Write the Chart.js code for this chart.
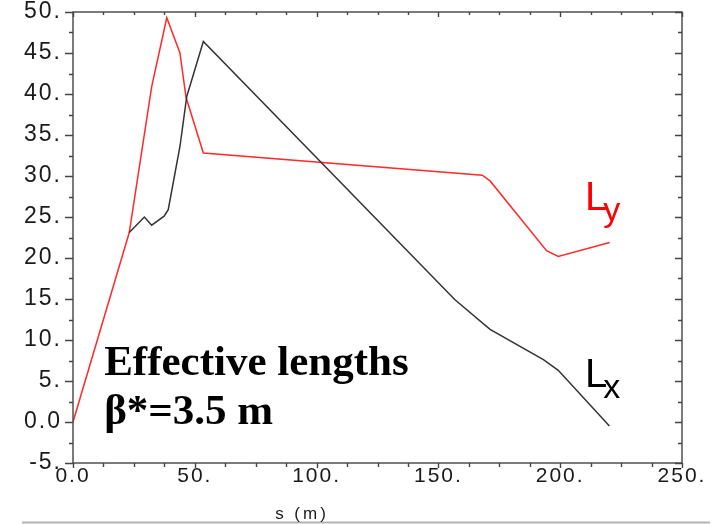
<!DOCTYPE html>
<html>
<head>
<meta charset="utf-8">
<script src="https://cdn.jsdelivr.net/npm/chart.js@4/dist/chart.umd.min.js"></script>
<style>
    html, body { margin: 0; padding: 0; background: #fff; }
    #Chart { display: block; }
</style>
</head>
<body>
<canvas id="Chart" width="720" height="524"></canvas>
<script>
//Horizontal effective length Lx along s (m)
const sLx = [23.1, 29.3, 32.3, 37.4, 39.1, 43.9, 46.7, 53.5, 156.8, 171.2, 193.1, 199.2, 220.2];
const Lx = [23.1, 25.0, 24.0, 25.1, 25.9, 33.6, 39.7, 46.4, 14.9, 11.3, 7.6, 6.3, -0.5];

//Vertical effective length Ly along s (m)
const sLy = [0, 23.1, 32.3, 38.5, 43.9, 46.4, 53.5, 168.0, 171.2, 194.4, 199.2, 220.3];
const Ly = [0, 23.1, 40.9, 49.3, 45.0, 39.6, 32.8, 30.1, 29.4, 20.9, 20.2, 21.9];

//Axis ranges and tick steps
const xRange = [0, 250];
const yRange = [-5, 50];
const xMajor = 50, xMinor = 12.5;
const yMajor = 5, yMinor = 2.5;

const xTitle = 's (m)';
const noteLines = ['Effective lengths', '\u03b2*=3.5 m'];

/**
 * Formats tick values the way the plotting program did: 50. 45. 0.0 -5.
 *
 * @param value {number}
 * @returns {string}
 */
function tickText(value) {
    return value === 0 ? '0.0' : value + '.';
}

function toPoints(xs, ys) {
    return xs.map(function (x, i) {
        return {x: x, y: ys[i]};
    });
}

//Keeps the plot box exactly where the layout padding puts it.
function noLabelPadding(scale) {
    scale.paddingTop = 0;
    scale.paddingBottom = 0;
    scale.paddingLeft = 0;
    scale.paddingRight = 0;
}

const axisColor = '#444';

//Draws the frame, the inward/outward tick marks and the text notes.
const framePlugin = {
    id: 'frame',
    beforeDraw: function (chart) {
        chart.ctx.letterSpacing = '2px';
    },
    afterDraw: function (chart) {
        const ctx = chart.ctx;
        const area = chart.chartArea;
        const xs = chart.scales.x;
        const ys = chart.scales.y;

        ctx.save();
        ctx.strokeStyle = axisColor;
        ctx.lineWidth = 1.4;
        ctx.strokeRect(area.left, area.top, area.right - area.left, area.bottom - area.top);

        ctx.beginPath();
        for (let v = yRange[0]; v <= yRange[1]; v += yMinor) {
            let py = Math.round(ys.getPixelForValue(v)) + 0.5;
            let major = v % yMajor === 0;
            ctx.moveTo(area.left, py);
            ctx.lineTo(area.left - (major ? 8 : 4), py);
            ctx.moveTo(area.right, py);
            ctx.lineTo(area.right - (major ? 7 : 4), py);
        }
        for (let v = xRange[0]; v <= xRange[1]; v += xMinor) {
            let px = Math.round(xs.getPixelForValue(v)) + 0.5;
            let major = v % xMajor === 0;
            ctx.moveTo(px, area.bottom);
            ctx.lineTo(px, area.bottom + (major ? 5 : 4));
            ctx.moveTo(px, area.top);
            ctx.lineTo(px, area.top + (major ? 5 : 3));
        }
        ctx.stroke();

        //separator line under the plot
        ctx.strokeStyle = '#b4b4b4';
        ctx.lineWidth = 2;
        ctx.beginPath();
        ctx.moveTo(22, 522.5);
        ctx.lineTo(710, 522.5);
        ctx.stroke();

        //axis title
        ctx.letterSpacing = '3px';
        ctx.fillStyle = '#1a1a1a';
        ctx.font = '17px "Liberation Sans", Arial, sans-serif';
        ctx.textAlign = 'center';
        ctx.textBaseline = 'alphabetic';
        ctx.fillText(xTitle, 302, 519);

        //note in the lower left
        ctx.letterSpacing = '0px';
        ctx.textAlign = 'left';
        ctx.fillStyle = '#000';
        ctx.font = 'bold 43px "Liberation Serif", "Times New Roman", serif';
        ctx.fillText(noteLines[0], xs.getPixelForValue(12.8), ys.getPixelForValue(5.73));
        ctx.fillText(noteLines[1], xs.getPixelForValue(12.8), ys.getPixelForValue(-0.24));

        //curve labels with subscripts
        drawSubscripted(ctx, 'L', 'y', '#ff0000', xs.getPixelForValue(210.2), ys.getPixelForValue(25.85));
        drawSubscripted(ctx, 'L', 'x', '#000', xs.getPixelForValue(210.2), ys.getPixelForValue(4.27));
        ctx.restore();
    }
};

function drawSubscripted(ctx, main, sub, color, x, y) {
    ctx.fillStyle = color;
    ctx.font = '40px "Liberation Sans", Arial, sans-serif';
    ctx.fillText(main, x, y);
    let w = ctx.measureText(main).width;
    ctx.font = '34px "Liberation Sans", Arial, sans-serif';
    ctx.fillText(sub, x + w - 4, y + 11);
}

const config = {
    type: 'line',
    data: {
        datasets: [{
            label: 'Lx',
            data: toPoints(sLx, Lx),
            borderColor: '#333',
            borderWidth: 1.5,
            pointRadius: 0,
            fill: false
        }, {
            label: 'Ly',
            data: toPoints(sLy, Ly),
            borderColor: '#ff2a2a',
            borderWidth: 1.5,
            pointRadius: 0,
            fill: false
        }]
    },
    options: {
        responsive: false,
        animation: false,
        devicePixelRatio: 1,
        layout: {padding: {left: 0, top: 12, right: 38, bottom: 0}},
        plugins: {
            legend: {display: false},
            tooltip: {enabled: false}
        },
        scales: {
            x: {
                type: 'linear',
                position: 'bottom',
                min: xRange[0],
                max: xRange[1],
                grid: {display: false, drawTicks: false},
                border: {display: false},
                afterFit: function (scale) {
                    scale.height = 61;
                    noLabelPadding(scale);
                },
                ticks: {
                    stepSize: xMajor,
                    padding: 1,
                    maxRotation: 0,
                    color: '#1a1a1a',
                    font: {family: '"Liberation Sans", Arial, sans-serif', size: 21},
                    callback: tickText
                }
            },
            y: {
                type: 'linear',
                min: yRange[0],
                max: yRange[1],
                grid: {display: false, drawTicks: false},
                border: {display: false},
                afterFit: function (scale) {
                    scale.width = 73;
                    noLabelPadding(scale);
                },
                ticks: {
                    stepSize: yMajor,
                    padding: 11,
                    color: '#1a1a1a',
                    font: {family: '"Liberation Sans", Arial, sans-serif', size: 23},
                    callback: tickText
                }
            }
        }
    },
    plugins: [framePlugin]
};

window.onload = function () {
    window.myLine = new Chart(document.getElementById('Chart').getContext('2d'), config);
};
</script>
</body>
</html>
